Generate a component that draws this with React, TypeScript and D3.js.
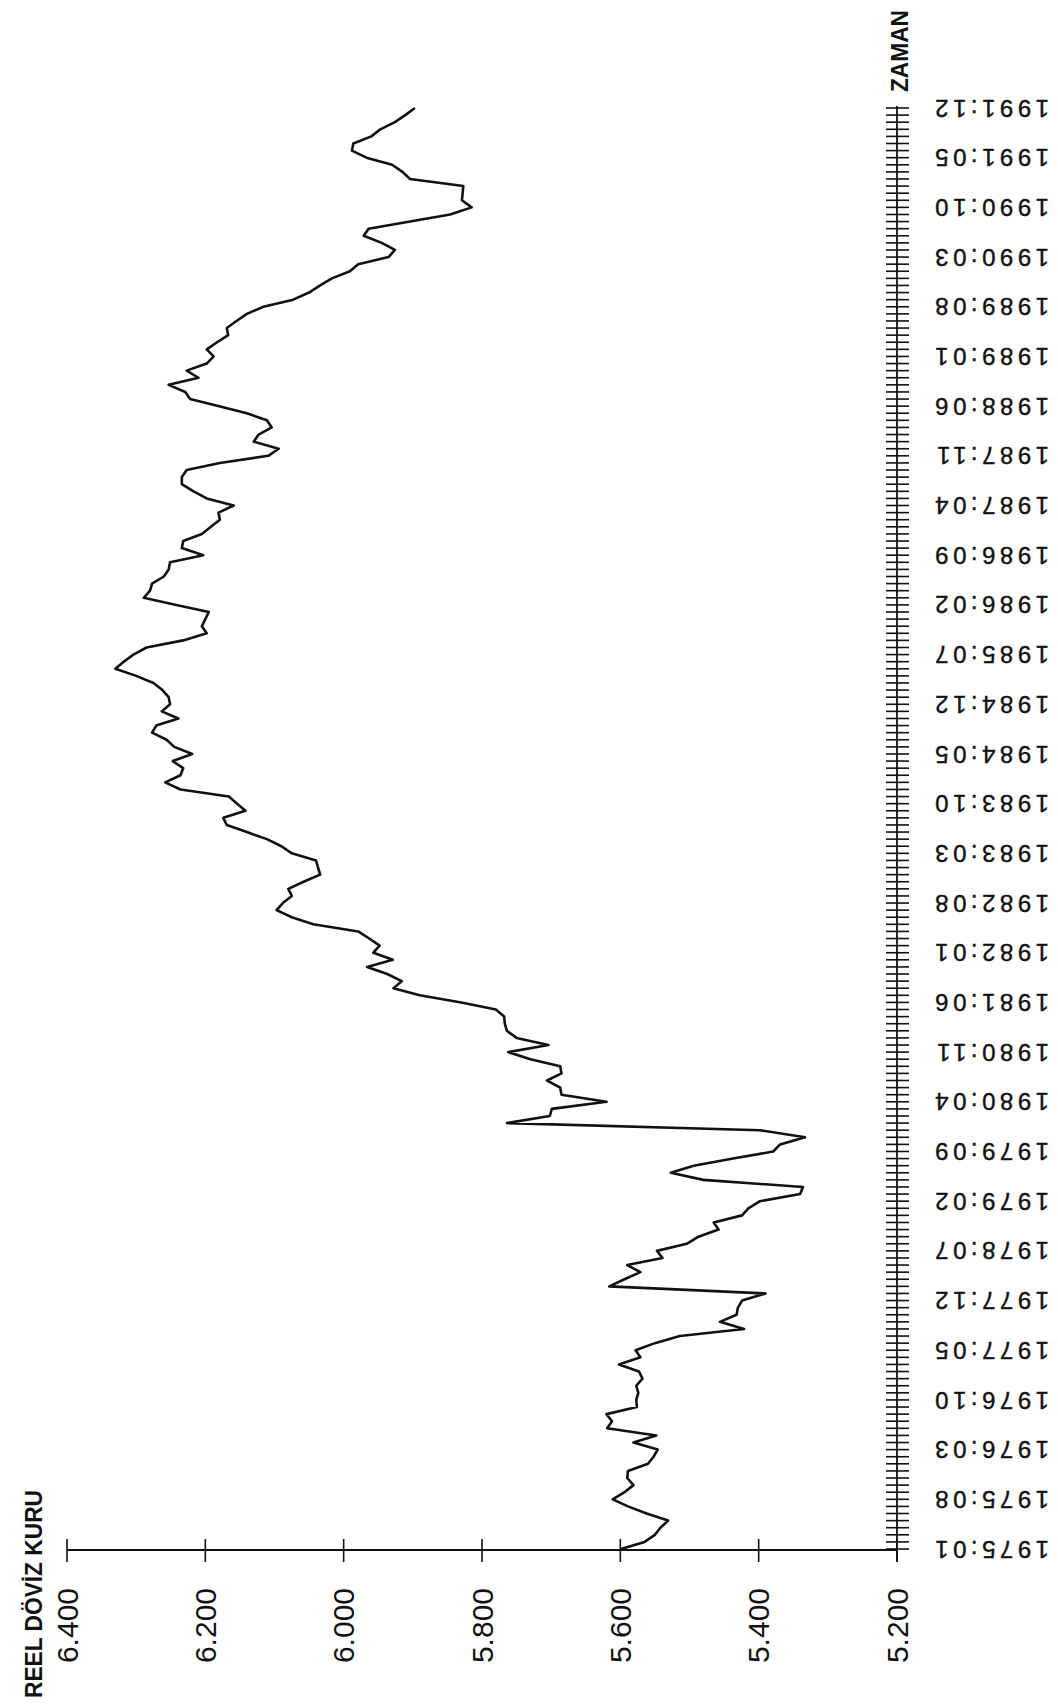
import { useEffect, useRef } from 'react';
import * as d3 from 'd3';

const W = 1058;
const H = 1708;

// REEL DÖVİZ KURU, aylık seri, 1975:01 - 1991:12
const reelKur = [
  5.599, 5.565, 5.550, 5.542, 5.531, 5.562, 5.589, 5.611, 5.594, 5.581, 5.590, 5.589, // 1975
  5.560, 5.552, 5.546, 5.581, 5.548, 5.619, 5.612, 5.620, 5.576, 5.577, 5.574, 5.577, // 1976
  5.568, 5.573, 5.602, 5.571, 5.578, 5.550, 5.514, 5.421, 5.456, 5.432, 5.430, 5.424, // 1977
  5.390, 5.616, 5.594, 5.571, 5.590, 5.539, 5.547, 5.504, 5.487, 5.458, 5.465, 5.424, // 1978
  5.415, 5.398, 5.340, 5.336, 5.480, 5.527, 5.494, 5.437, 5.379, 5.369, 5.333, 5.398, // 1979
  5.764, 5.702, 5.699, 5.620, 5.685, 5.687, 5.706, 5.685, 5.687, 5.730, 5.762, 5.704, // 1980
  5.750, 5.764, 5.767, 5.768, 5.780, 5.830, 5.890, 5.928, 5.916, 5.937, 5.966, 5.929, // 1981
  5.957, 5.948, 5.963, 5.979, 6.044, 6.075, 6.097, 6.088, 6.075, 6.080, 6.058, 6.034, // 1982
  6.037, 6.040, 6.075, 6.090, 6.111, 6.140, 6.169, 6.174, 6.142, 6.154, 6.166, 6.236, // 1983
  6.258, 6.236, 6.232, 6.247, 6.219, 6.245, 6.256, 6.277, 6.271, 6.239, 6.263, 6.251, // 1984
  6.253, 6.262, 6.275, 6.300, 6.330, 6.318, 6.304, 6.285, 6.232, 6.198, 6.205, 6.200, // 1985
  6.195, 6.242, 6.289, 6.280, 6.277, 6.260, 6.253, 6.251, 6.203, 6.234, 6.232, 6.205, // 1986
  6.192, 6.179, 6.181, 6.159, 6.198, 6.217, 6.234, 6.234, 6.227, 6.179, 6.109, 6.094, // 1987
  6.130, 6.123, 6.104, 6.111, 6.140, 6.180, 6.222, 6.229, 6.253, 6.210, 6.227, 6.198, // 1988
  6.188, 6.198, 6.183, 6.167, 6.169, 6.155, 6.140, 6.116, 6.073, 6.050, 6.034, 6.017, // 1989
  5.991, 5.979, 5.935, 5.926, 5.945, 5.971, 5.964, 5.904, 5.846, 5.815, 5.829, 5.828, // 1990
  5.827, 5.904, 5.915, 5.930, 5.967, 5.988, 5.986, 5.960, 5.947, 5.926, 5.911, 5.897, // 1991
];

const baslangicYili = 1975;
const aylar = reelKur.map(
  (_, i) => `${baslangicYili + Math.floor(i / 12)}:${String((i % 12) + 1).padStart(2, '0')}`
);

const zamanEtiketleri = [
  '1975:01', '1975:08', '1976:03', '1976:10', '1977:05', '1977:12', '1978:07', '1979:02',
  '1979:09', '1980:04', '1980:11', '1981:06', '1982:01', '1982:08', '1983:03', '1983:10',
  '1984:05', '1984:12', '1985:07', '1986:02', '1986:09', '1987:04', '1987:11', '1988:06',
  '1989:01', '1989:08', '1990:03', '1990:10', '1991:05', '1991:12',
];

const degerEtiketleri = [6.4, 6.2, 6.0, 5.8, 5.6, 5.4, 5.2];

const FONT = '"Liberation Sans", Arial, sans-serif';
const INK = '#111';

const App = () => {
  const svgRef = useRef(null);

  useEffect(() => {
    const svg = d3.select(svgRef.current);
    svg.selectAll('*').remove();

    // deger ekseni yatay, zaman ekseni dikey (sayfa döndürülmüş)
    const x = d3.scaleLinear().domain([6.4, 5.2]).range([67, 897]);
    const y = d3.scalePoint().domain(aylar).range([1549, 108]);

    const axisY = 1550;
    const axisX = x(5.2);

    // zaman ekseni
    svg.append('line')
      .attr('x1', axisX).attr('x2', axisX)
      .attr('y1', (y(aylar[aylar.length - 1]) as number) - 2)
      .attr('y2', axisY + 12)
      .attr('stroke', INK).attr('stroke-width', 1.8);

    svg.append('g')
      .selectAll('line')
      .data(aylar)
      .join('line')
      .attr('x1', axisX - 11).attr('x2', axisX + 12)
      .attr('y1', d => y(d) as number).attr('y2', d => y(d) as number)
      .attr('stroke', INK).attr('stroke-width', 1.6);

    svg.append('g')
      .selectAll('text')
      .data(zamanEtiketleri)
      .join('text')
      .attr('transform', d => `translate(1049,${y(d)}) rotate(180)`)
      .attr('dy', '0.35em')
      .attr('text-anchor', 'start')
      .attr('font-family', FONT)
      .attr('font-size', 24)
      .attr('letter-spacing', 4.5)
      .attr('fill', INK)
      .attr('stroke', INK)
      .attr('stroke-width', 0.4)
      .text(d => d);

    svg.append('text')
      .attr('transform', `translate(908,92) rotate(-90)`)
      .attr('font-family', FONT)
      .attr('font-weight', 'bold')
      .attr('font-size', 24)
      .attr('textLength', 82)
      .attr('lengthAdjust', 'spacingAndGlyphs')
      .attr('fill', INK)
      .text('ZAMAN');

    // deger ekseni
    svg.append('line')
      .attr('x1', x(6.4)).attr('x2', axisX)
      .attr('y1', axisY).attr('y2', axisY)
      .attr('stroke', INK).attr('stroke-width', 1.8);

    svg.append('g')
      .selectAll('line')
      .data(degerEtiketleri)
      .join('line')
      .attr('x1', d => x(d)).attr('x2', d => x(d))
      .attr('y1', axisY - 11).attr('y2', axisY + 12)
      .attr('stroke', INK).attr('stroke-width', 1.6);

    svg.append('g')
      .selectAll('text')
      .data(degerEtiketleri)
      .join('text')
      .attr('transform', d => `translate(${x(d)},1588) rotate(-90)`)
      .attr('dy', '0.35em')
      .attr('text-anchor', 'end')
      .attr('font-family', FONT)
      .attr('font-size', 30)
      .attr('fill', INK)
      .text(d => d3.format('.3f')(d));

    svg.append('text')
      .attr('transform', `translate(42,1698) rotate(-90)`)
      .attr('font-family', FONT)
      .attr('font-weight', 'bold')
      .attr('font-size', 24)
      .attr('textLength', 208)
      .attr('lengthAdjust', 'spacingAndGlyphs')
      .attr('fill', INK)
      .text('REEL DÖVİZ KURU');

    // seri
    const line = d3.line<number>()
      .x(d => x(d))
      .y((_, i) => y(aylar[i]) as number);

    svg.append('path')
      .datum(reelKur)
      .attr('d', line)
      .attr('fill', 'none')
      .attr('stroke', INK)
      .attr('stroke-width', 2.6)
      .attr('stroke-linejoin', 'round');
  }, []);

  return (
    <svg
      ref={svgRef}
      width={W}
      height={H}
      style={{ position: 'absolute', left: 0, top: 0, background: '#fff' }}
    />
  );
};

export default App;
